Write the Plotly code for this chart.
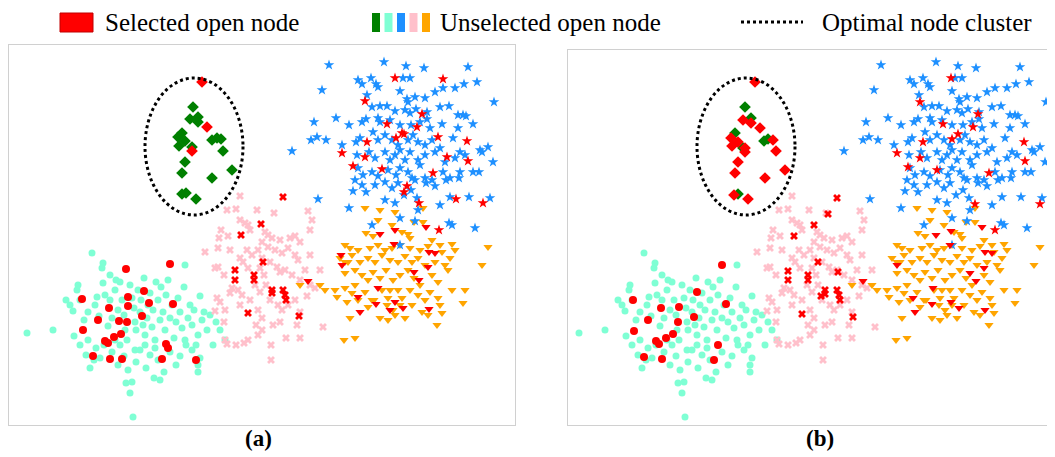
import plotly.graph_objects as go

W, H = 1055, 457
OFF = 8  # default page margin of the html body

# unselected open nodes (shared between both panels), in panel-(a) pixel units
cyan = [(27,333),(53,330),(66,300),(70,305),(73,311),(77,290),(78,285),(80,300),(84,320),(88,312),(92,253),(95,305),(97,297),(99,316),(102,268),(103,283),(105,295),(108,326),(110,300),(112,318),(115,290),(116,280),(118,310),(120,282),(122,300),(124,315),(125,330),(127,340),(130,285),(132,298),(134,308),(135,322),(136,330),(138,290),(140,312),(141,300),(143,325),(144,278),(145,335),(147,318),(148,305),(150,293),(152,327),(153,310),(155,340),(156,282),(158,300),(160,320),(161,287),(163,312),(165,330),(166,295),(168,280),(170,318),(172,305),(174,338),(176,322),(178,298),(180,312),(182,328),(184,287),(185,340),(188,318),(190,305),(192,325),(194,310),(196,345),(198,335),(200,296),(202,320),(204,312),(207,330),(210,315),(213,345),(216,322),(220,330),(225,340),(74,336),(80,345),(86,355),(90,368),(96,348),(100,358),(104,345),(112,352),(118,365),(124,356),(128,370),(132,382),(136,362),(140,350),(146,368),(150,355),(154,378),(158,360),(164,372),(170,352),(176,365),(180,356),(186,345),(192,350),(198,372),(200,358),(130,393),(126,383),(133,417),(103,263),(185,265),(110,275),(94,360),(160,380),(198,365),(115,340),(145,345),(155,348),(120,345),(88,340),(135,350)]
pink = [(240,196),(227,210),(236,209),(257,210),(274,213),(308,211),(312,220),(240,220),(245,223),(248,225),(221,230),(219,238),(228,236),(250,230),(265,232),(268,235),(272,238),(262,242),(280,240),(290,238),(295,236),(300,242),(310,230),(310,255),(205,252),(218,248),(230,250),(247,250),(252,255),(258,250),(262,258),(268,247),(275,250),(282,253),(288,248),(295,255),(298,260),(240,258),(243,262),(248,268),(260,268),(264,275),(270,262),(277,267),(280,272),(285,270),(292,275),(300,280),(305,270),(310,285),(315,288),(218,267),(224,275),(232,288),(230,293),(238,290),(242,295),(255,285),(260,292),(266,285),(270,300),(278,305),(282,310),(288,305),(295,300),(300,312),(307,296),(217,298),(220,302),(215,311),(225,310),(240,305),(250,300),(258,310),(262,318),(256,325),(262,330),(273,325),(280,322),(297,325),(323,327),(224,322),(225,340),(236,345),(244,343),(248,340),(258,335),(271,345),(286,338),(300,338),(227,344),(271,360),(320,270),(215,268)]
blue = [(329,65),(384,62),(406,66),(424,68),(468,67),(322,90),(358,80),(362,84),(371,78),(376,84),(378,87),(403,78),(410,78),(400,91),(425,98),(435,92),(443,88),(455,88),(464,84),(477,82),(494,102),(367,95),(407,99),(408,102),(415,97),(372,107),(380,106),(387,106),(395,111),(405,110),(410,113),(416,109),(427,112),(440,107),(449,106),(458,115),(463,115),(466,116),(314,122),(336,118),(349,125),(362,122),(366,119),(378,118),(380,122),(390,120),(400,125),(411,125),(420,122),(427,119),(430,128),(442,124),(458,128),(473,124),(311,140),(317,137),(326,140),(342,145),(356,142),(360,138),(373,132),(378,140),(385,135),(392,140),(398,145),(408,140),(413,135),(418,142),(425,145),(432,140),(440,148),(453,138),(460,152),(480,150),(488,147),(292,151),(357,155),(369,152),(375,158),(385,152),(390,160),(395,155),(400,150),(405,160),(410,152),(418,160),(425,155),(435,152),(445,162),(455,158),(465,155),(482,152),(493,162),(358,168),(363,175),(372,172),(378,176),(388,170),(396,175),(400,168),(408,172),(412,178),(420,165),(425,178),(432,180),(443,172),(450,178),(460,172),(473,172),(479,172),(355,180),(362,185),(375,185),(385,182),(392,188),(398,183),(404,195),(411,190),(415,180),(426,183),(435,186),(446,180),(459,178),(353,191),(366,192),(385,200),(395,203),(417,198),(440,205),(450,197),(469,197),(490,198),(318,199),(349,208),(372,225),(400,218),(415,221),(418,210),(449,223),(452,225),(475,228),(400,245)]
orange = [(365,208),(380,210),(395,212),(423,208),(378,220),(414,222),(392,225),(402,232),(408,234),(423,222),(366,233),(373,236),(410,238),(432,240),(440,245),(452,244),(345,245),(350,248),(358,250),(370,248),(378,245),(385,250),(392,248),(400,245),(410,248),(420,250),(428,246),(442,252),(455,250),(488,247),(340,258),(348,262),(352,255),(360,262),(368,258),(375,262),(382,255),(390,260),(398,262),(405,256),(412,262),(418,258),(425,265),(435,262),(445,265),(450,258),(482,265),(325,290),(337,297),(345,273),(355,270),(362,275),(368,280),(373,272),(380,278),(386,270),(393,280),(400,275),(408,270),(414,278),(420,285),(432,275),(438,282),(448,270),(452,290),(335,290),(345,288),(352,293),(365,292),(372,300),(382,290),(388,298),(398,290),(402,298),(410,290),(418,295),(430,292),(438,298),(440,305),(463,303),(347,302),(358,300),(368,307),(374,300),(387,305),(393,310),(405,318),(412,305),(422,312),(428,315),(442,313),(350,318),(380,318),(388,320),(437,325),(344,340),(355,338),(320,285),(465,290),(300,285),(345,262),(355,285),(390,290),(425,300),(395,315),(400,305)]

# panel (a)
green_a = [(193,107),(190,119),(198,117),(198,122),(182,133),(178,137),(185,141),(179,146),(192,147),(212,140),(217,138),(221,139),(223,151),(185,162),(182,173),(212,178),(232,170),(182,194),(186,193),(196,199)]
red_dia_a = [(202,82),(207,127),(192,151)]
red_cir_a = [(126,269),(170,264),(82,299),(128,297),(144,291),(109,308),(128,306),(149,303),(173,304),(98,320),(119,321),(127,322),(142,316),(83,330),(114,337),(121,334),(105,341),(108,343),(166,344),(168,348),(93,356),(110,359),(122,359),(162,359),(196,360)]
red_x_a = [(283,197),(261,224),(241,235),(263,262),(235,270),(235,280),(254,275),(254,280),(272,290),(272,293),(283,290),(285,295),(286,300),(248,313),(299,316)]
red_star_a = [(395,78),(443,79),(365,101),(422,114),(387,124),(417,127),(402,133),(404,134),(396,138),(438,137),(467,141),(367,142),(342,153),(365,157),(447,157),(353,166),(468,161),(382,169),(433,173),(407,186),(404,192),(456,199),(419,203),(483,203),(439,230)]
red_tri_a = [(341,255),(342,265),(380,234),(395,230),(426,227),(394,244),(429,252),(435,253),(428,267),(414,272),(419,280),(378,288),(358,297),(376,304),(395,302),(403,308),(390,310),(360,312),(429,309),(308,281)]

# panel (b)
green_b = [(193,107),(199,118),(183,133),(212,141),(216,139),(191,148),(186,194)]
red_dia_b = [(203,82),(191,120),(199,123),(208,128),(179,138),(186,142),(180,146),(193,148),(193,152),(221,140),(224,151),(186,162),(183,173),(213,178),(233,170),(182,195),(196,199)]
red_cir_b = [(170,265),(145,292),(81,300),(109,308),(127,307),(174,304),(96,320),(126,322),(142,317),(82,331),(121,334),(114,338),(104,341),(107,344),(166,345),(92,357),(110,359),(162,360)]
red_x_b = [(285,198),(276,214),(262,225),(242,236),(266,262),(236,271),(236,280),(256,275),(256,280),(286,272),(273,290),(273,294),(269,296),(285,290),(287,295),(288,300),(250,314),(301,317)]
red_star_b = [(399,78),(368,102),(426,114),(391,124),(421,127),(406,134),(400,139),(371,142),(472,142),(345,153),(368,158),(473,161),(356,167),(385,170),(437,173),(423,204),(488,204),(443,230)]
red_tri_b = [(384,235),(399,231),(430,227),(398,245),(433,252),(440,253),(345,265),(432,268),(418,273),(424,281),(311,281),(381,288),(361,298),(380,304),(399,302),(363,312),(407,308),(433,310)]

panel_labels = ["(a)", "(b)"]
legend_texts = ["Selected open node", "Unselected open node", "Optimal node cluster"]

RED = "#ff0000"
COL = {"green": "#008000", "cyan": "#7fffd4", "blue": "#1e90ff", "pink": "#ffc0cb", "orange": "#ffa500"}

FW, FH = W - OFF, H - OFF
fig = go.Figure()


def add(pts, sym, color, size, axis):
    fig.add_trace(go.Scatter(
        x=[p[0] for p in pts], y=[p[1] for p in pts], mode="markers",
        marker=dict(symbol=sym, color=color, size=size, line=dict(width=0)),
        xaxis="x" + axis, yaxis="y" + axis, showlegend=False, hoverinfo="skip"))


panels = [
    ("", green_a, red_dia_a, red_cir_a, red_x_a, red_star_a, red_tri_a),
    ("2", green_b, red_dia_b, red_cir_b, red_x_b, red_star_b, red_tri_b),
]
for ax, green, rdia, rcir, rx, rstar, rtri in panels:
    add(cyan, "circle", COL["cyan"], 7, ax)
    add(pink, "x", COL["pink"], 7, ax)
    add(orange, "triangle-down", COL["orange"], 8, ax)
    add(blue, "star", COL["blue"], 8, ax)
    add(green, "diamond", COL["green"], 9, ax)
    add(rcir, "circle", RED, 8, ax)
    add(rx, "x", RED, 7, ax)
    add(rtri, "triangle-down", RED, 8, ax)
    add(rstar, "star", RED, 8, ax)
    add(rdia, "diamond", RED, 9, ax)


def px(x):
    return min(1, max(0, (x - OFF) / FW))


def py(y):
    return min(1, max(0, 1 - (y - OFF) / FH))


axis_common = dict(showgrid=False, zeroline=False, showticklabels=False, ticks="",
                   showline=True, mirror=True, linecolor="#d0d0d0", linewidth=1)
fig.update_layout(
    width=FW, height=FH, margin=dict(l=0, r=0, t=0, b=0),
    plot_bgcolor="white", paper_bgcolor="white",
    xaxis=dict(domain=[px(9), px(515)], range=[9, 515], **axis_common),
    yaxis=dict(domain=[py(425), py(45)], range=[425, 45], **axis_common),
    xaxis2=dict(domain=[px(568), px(1050)], range=[16, 498], anchor="y2", **axis_common),
    yaxis2=dict(domain=[py(425), py(50)], range=[425, 50], anchor="x2", **axis_common),
)

LY = 22  # legend row centre (page pixels)
shapes = []
for xr, yr in [("x", "y"), ("x2", "y2")]:
    shapes.append(dict(type="circle", xref=xr, yref=yr, x0=145, x1=243, y0=78, y1=215,
                       line=dict(color="black", width=3, dash="dot")))
# legend glyphs
shapes.append(dict(type="rect", xref="paper", yref="paper", x0=px(60), x1=px(93), y0=py(LY + 10), y1=py(LY - 9),
                   fillcolor=RED, line=dict(color="#c00000", width=1)))
for i, c in enumerate(["green", "cyan", "blue", "pink", "orange"]):
    x0 = 372 + i * 12.5
    shapes.append(dict(type="rect", xref="paper", yref="paper", x0=px(x0), x1=px(x0 + 8), y0=py(LY + 10), y1=py(LY - 9),
                       fillcolor=COL[c], line=dict(width=0)))
shapes.append(dict(type="line", xref="paper", yref="paper", x0=px(741), x1=px(803), y0=py(LY), y1=py(LY),
                   line=dict(color="black", width=3, dash="dot")))
fig.update_layout(shapes=shapes)

font = dict(family="Liberation Serif", size=25, color="black")
ann = [
    dict(text=legend_texts[0], x=px(103), y=py(LY), xanchor="left"),
    dict(text=legend_texts[1], x=px(438), y=py(LY), xanchor="left"),
    dict(text=legend_texts[2], x=px(820), y=py(LY), xanchor="left"),
    dict(text="<b>" + panel_labels[0] + "</b>", x=px(258), y=py(438), xanchor="center"),
    dict(text="<b>" + panel_labels[1] + "</b>", x=px(820), y=py(438), xanchor="center"),
]
for a in ann:
    a.update(xref="paper", yref="paper", yanchor="middle", showarrow=False, font=font)
ann[3]["font"] = dict(font, size=23)
ann[4]["font"] = dict(font, size=23)
fig.update_layout(annotations=ann)

fig.write_html("out.html")
